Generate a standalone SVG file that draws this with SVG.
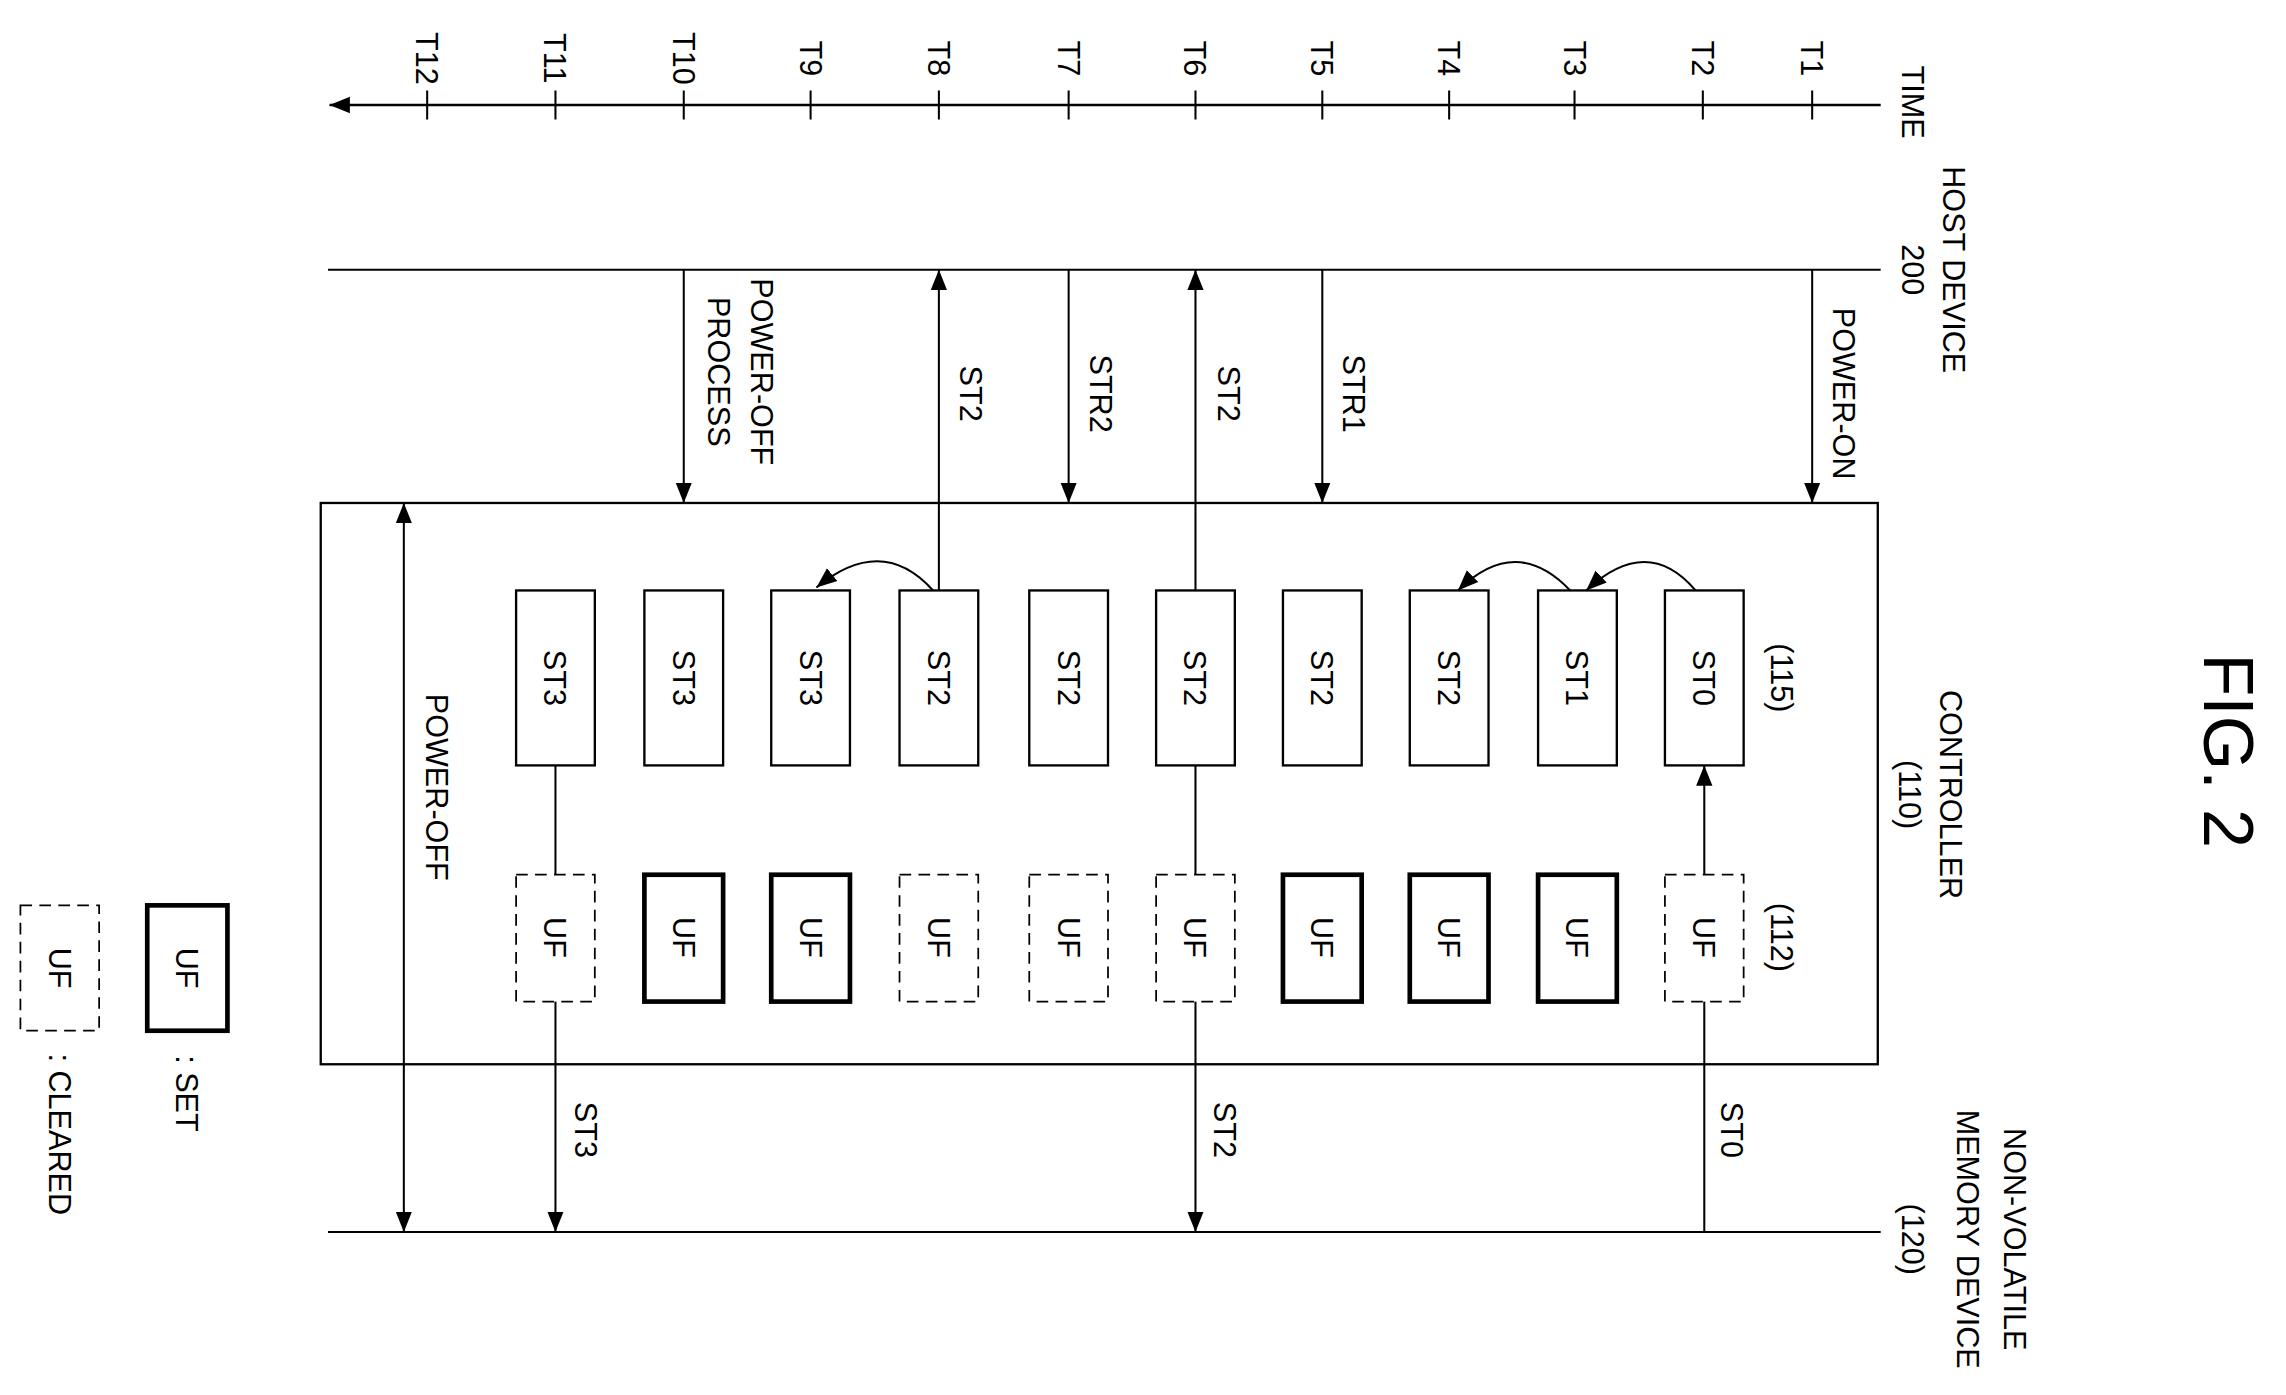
<svg xmlns="http://www.w3.org/2000/svg" width="2286" height="1395" viewBox="0 0 2286 1395">
<style>
text{font-family:"Liberation Sans",Arial,sans-serif;font-size:21px;fill:#000;text-anchor:middle;dominant-baseline:central}
.l{stroke:#000;stroke-width:1.4;fill:none}
.b{stroke:#000;stroke-width:1.6;fill:#fff}
.k{stroke:#000;stroke-width:3.2;fill:#fff}
.d{stroke:#000;stroke-width:1.2;fill:#fff;stroke-dasharray:8 5}
</style>
<defs>
<marker id="a" viewBox="0 0 10 10" refX="10" refY="5" markerWidth="14" markerHeight="14" markerUnits="userSpaceOnUse" orient="auto-start-reverse"><path d="M0,1 L10,5 L0,9 Z"/></marker>
</defs>
<rect width="2286" height="1395" fill="#fff"/>
<g transform="scale(1.4579)">
<g id="axes">
<line class="l" x1="1290" y1="72" x2="226" y2="72" marker-end="url(#a)" style="stroke-width:1.6"/>
<g class="l">
<path d="M1243,62V82M1168,62V82M1080,62V82M994,62V82M907,62V82M820,62V82M733,62V82M644,62V82M556,62V82M469,62V82M381,62V82M293,62V82"/>
<line x1="225" y1="185" x2="1290" y2="185"/>
<line x1="225" y1="845" x2="1290" y2="845"/>
</g>
<g>
<text transform="translate(1243,40) rotate(90)">T1</text>
<text transform="translate(1168,40) rotate(90)">T2</text>
<text transform="translate(1080,40) rotate(90)">T3</text>
<text transform="translate(994,40) rotate(90)">T4</text>
<text transform="translate(907,40) rotate(90)">T5</text>
<text transform="translate(820,40) rotate(90)">T6</text>
<text transform="translate(733,40) rotate(90)">T7</text>
<text transform="translate(644,40) rotate(90)">T8</text>
<text transform="translate(556,40) rotate(90)">T9</text>
<text transform="translate(469,40) rotate(90)">T10</text>
<text transform="translate(381,40) rotate(90)">T11</text>
<text transform="translate(293,40) rotate(90)">T12</text>
<text transform="translate(1312,70) rotate(90)">TIME</text>
<text transform="translate(1340,185) rotate(90)">HOST DEVICE</text>
<text transform="translate(1312,185) rotate(90)">200</text>
<text transform="translate(1382,850) rotate(90)">NON-VOLATILE</text>
<text transform="translate(1350,850) rotate(90)">MEMORY DEVICE</text>
<text transform="translate(1312,850) rotate(90)">(120)</text>
<text transform="translate(1528,515) rotate(90)" style="font-size:48px">FIG. 2</text>
</g>
</g>
<g id="controller">
<rect class="b" x="220" y="345" width="1068" height="385" fill="none"/>
<text transform="translate(1338,545) rotate(90)">CONTROLLER</text>
<text transform="translate(1310,545) rotate(90)">(110)</text>
<text transform="translate(1222,465) rotate(90)">(115)</text>
<text transform="translate(1222,643) rotate(90)">(112)</text>
<text transform="translate(300,540) rotate(90)">POWER-OFF</text>
</g>
<g id="states">
<g id="s0"><rect class="b" x="1142" y="405" width="54" height="120"/><text transform="translate(1169,465) rotate(90)">ST0</text></g>
<g id="s1"><rect class="b" x="1055" y="405" width="54" height="120"/><text transform="translate(1082,465) rotate(90)">ST1</text></g>
<g id="s2"><rect class="b" x="967" y="405" width="54" height="120"/><text transform="translate(994,465) rotate(90)">ST2</text></g>
<g id="s3"><rect class="b" x="880" y="405" width="54" height="120"/><text transform="translate(907,465) rotate(90)">ST2</text></g>
<g id="s4"><rect class="b" x="793" y="405" width="54" height="120"/><text transform="translate(820,465) rotate(90)">ST2</text></g>
<g id="s5"><rect class="b" x="706" y="405" width="54" height="120"/><text transform="translate(733,465) rotate(90)">ST2</text></g>
<g id="s6"><rect class="b" x="617" y="405" width="54" height="120"/><text transform="translate(644,465) rotate(90)">ST2</text></g>
<g id="s7"><rect class="b" x="529" y="405" width="54" height="120"/><text transform="translate(556,465) rotate(90)">ST3</text></g>
<g id="s8"><rect class="b" x="442" y="405" width="54" height="120"/><text transform="translate(469,465) rotate(90)">ST3</text></g>
<g id="s9"><rect class="b" x="354" y="405" width="54" height="120"/><text transform="translate(381,465) rotate(90)">ST3</text></g>
</g>
<g id="flags">
<g id="u0"><rect class="d" x="1142" y="600" width="54" height="87"/><text transform="translate(1169,643) rotate(90)">UF</text></g>
<g id="u1"><rect class="k" x="1055" y="600" width="54" height="87"/><text transform="translate(1082,643) rotate(90)">UF</text></g>
<g id="u2"><rect class="k" x="967" y="600" width="54" height="87"/><text transform="translate(994,643) rotate(90)">UF</text></g>
<g id="u3"><rect class="k" x="880" y="600" width="54" height="87"/><text transform="translate(907,643) rotate(90)">UF</text></g>
<g id="u4"><rect class="d" x="793" y="600" width="54" height="87"/><text transform="translate(820,643) rotate(90)">UF</text></g>
<g id="u5"><rect class="d" x="706" y="600" width="54" height="87"/><text transform="translate(733,643) rotate(90)">UF</text></g>
<g id="u6"><rect class="d" x="617" y="600" width="54" height="87"/><text transform="translate(644,643) rotate(90)">UF</text></g>
<g id="u7"><rect class="k" x="529" y="600" width="54" height="87"/><text transform="translate(556,643) rotate(90)">UF</text></g>
<g id="u8"><rect class="k" x="442" y="600" width="54" height="87"/><text transform="translate(469,643) rotate(90)">UF</text></g>
<g id="u9"><rect class="d" x="354" y="600" width="54" height="87"/><text transform="translate(381,643) rotate(90)">UF</text></g>
</g>
<g id="connectors">
<line class="l" x1="1243" y1="185" x2="1243" y2="345" marker-end="url(#a)"/>
<line class="l" x1="907" y1="185" x2="907" y2="345" marker-end="url(#a)"/>
<line class="l" x1="820" y1="405" x2="820" y2="185" marker-end="url(#a)"/>
<line class="l" x1="733" y1="185" x2="733" y2="345" marker-end="url(#a)"/>
<line class="l" x1="644" y1="405" x2="644" y2="185" marker-end="url(#a)"/>
<line class="l" x1="469" y1="185" x2="469" y2="345" marker-end="url(#a)"/>
<line class="l" x1="1169" y1="845" x2="1169" y2="687"/>
<line class="l" x1="1169" y1="600" x2="1169" y2="525" marker-end="url(#a)"/>
<line class="l" x1="820" y1="525" x2="820" y2="600"/>
<line class="l" x1="820" y1="687" x2="820" y2="845" marker-end="url(#a)"/>
<line class="l" x1="381" y1="525" x2="381" y2="600"/>
<line class="l" x1="381" y1="687" x2="381" y2="845" marker-end="url(#a)"/>
<line class="l" x1="277" y1="345" x2="277" y2="845" marker-start="url(#a)" marker-end="url(#a)"/>
<path class="l" d="M1163,405 Q1130,366 1088,405" marker-end="url(#a)"/>
<path class="l" d="M1077,405 Q1040,366 1000,405" marker-end="url(#a)"/>
<path class="l" d="M640,405 Q605,366 560,403" marker-end="url(#a)"/>
<text transform="translate(1265,270) rotate(90)">POWER-ON</text>
<text transform="translate(929,270) rotate(90)">STR1</text>
<text transform="translate(843,270) rotate(90)">ST2</text>
<text transform="translate(755,270) rotate(90)">STR2</text>
<text transform="translate(666,270) rotate(90)">ST2</text>
<text transform="translate(523,255) rotate(90)">POWER-OFF</text>
<text transform="translate(493,255) rotate(90)">PROCESS</text>
<text transform="translate(1188,775) rotate(90)">ST0</text>
<text transform="translate(840,775) rotate(90)">ST2</text>
<text transform="translate(402,775) rotate(90)">ST3</text>
</g>
<g id="legend">
<rect class="k" x="101" y="621" width="55" height="86"/><text transform="translate(128,664) rotate(90)">UF</text>
<text transform="translate(128,750) rotate(90)">: SET</text>
<rect class="d" x="14" y="621" width="54" height="86"/><text transform="translate(41,664) rotate(90)">UF</text>
<text transform="translate(41,778) rotate(90)">: CLEARED</text>
</g>
</g>
</svg>
